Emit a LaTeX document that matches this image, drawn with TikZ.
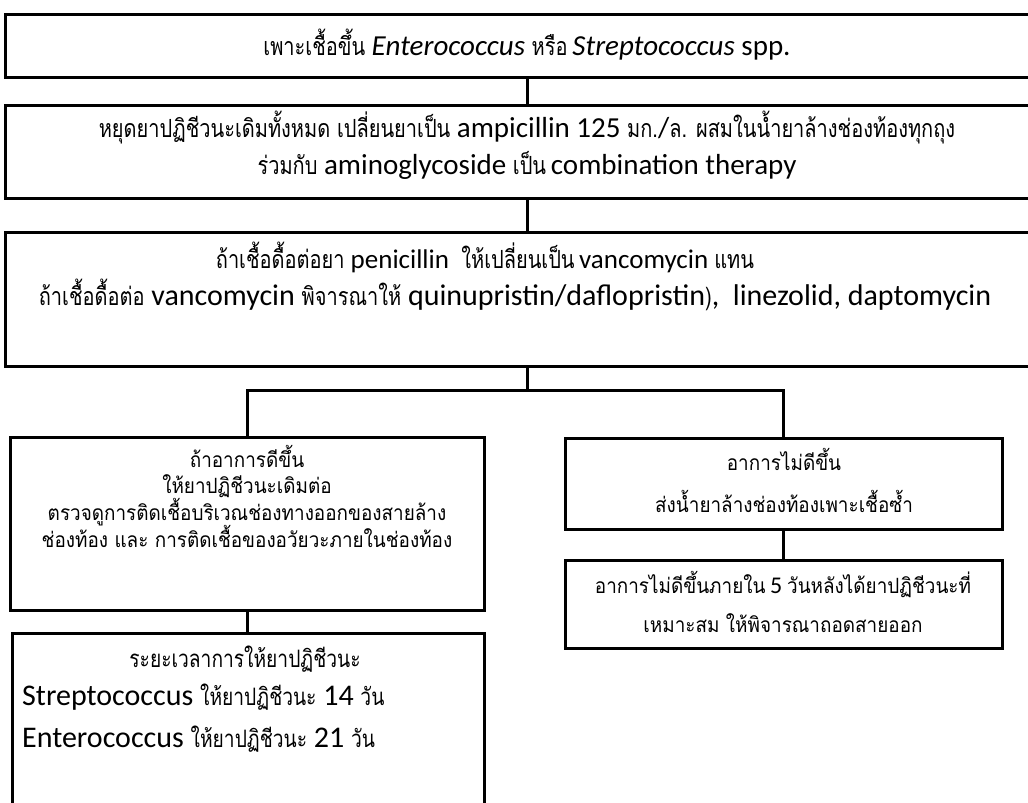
\documentclass[tikz,border=0pt]{standalone}
\usepackage{fontspec}
\setmainfont{Carlito}
\newfontfamily\thn[Script=Thai,FakeStretch=0.8]{Loma}
\newfontfamily\tht[Script=Thai,FakeStretch=0.9]{Loma}
\newcommand\TN[1]{{\fontsize{25}{29}\thn #1}}
\newcommand\TB[1]{{\fontsize{24}{28}\thn #1}}
\newcommand\TT[1]{{\fontsize{21}{25}\tht #1}}
\newcommand\LA{\fontsize{29}{34}\selectfont}
\begin{document}
\begin{tikzpicture}[x=1pt,y=-1pt,
  box/.style={draw, line width=3pt, inner sep=0pt, rectangle},
  conn/.style={line width=3pt},
  txt/.style={anchor=base, inner sep=0pt, font=\LA}]
\useasboundingbox (0,0) rectangle (1028,803);
\fill[white] (0,0) rectangle (1028,803);
\clip (0,0) rectangle (1028,803);
% boxes
\node[box, minimum width=1044pt, minimum height=63pt] (b1) at (527,45.5) {};
\node[box, minimum width=1044pt, minimum height=93pt] (b2) at (527,151.5) {};
\node[box, minimum width=1044pt, minimum height=134pt] (b3) at (527,299) {};
\node[box, minimum width=474pt, minimum height=173pt] (bl) at (247,523.5) {};
\node[box, minimum width=437pt, minimum height=91pt] (ra) at (783.5,483.5) {};
\node[box, minimum width=437pt, minimum height=88pt] (rb) at (783.5,604) {};
\node[box, minimum width=472pt, minimum height=190pt] (bb) at (248,728) {};
\coordinate (j) at (527,390);
% connectors
\draw[conn] (b1.south) -- (b2.north);
\draw[conn] (b2.south) -- (b3.north);
\draw[conn] (b3.south) -- (j);
\draw[conn] (bl.north) -- (bl.north |- j) -- (ra.north |- j) -- (ra.north);
\draw[conn] (ra.south) -- (rb.north);
\draw[conn] (bl.south) -- (bl.south |- bb.north);
% texts
\node[txt] (t1) at (527,55) {\TN{เพาะเชื้อขึ้น} \textit{Enterococcus} \TN{หรือ}\,\textit{Streptococcus} spp.};
\node[txt] (t2a) at (527,137) {\TN{หยุดยาปฏิชีวนะเดิมทั้งหมด เปลี่ยนยาเป็น} ampicillin 125 \TN{มก.}/\TN{ล. ผสมในน้ำยาล้างช่องท้องทุกถุง}};
\node[txt] (t2b) at (527,174) {\TN{ร่วมกับ} aminoglycoside \TN{เป็น}\,combination therapy};
\node[txt, font=\fontsize{27}{32}\selectfont] (t3a) at (485,268) {\TN{ถ้าเชื้อดื้อต่อยา} penicillin\ \ \TN{ให้เปลี่ยนเป็น}\,vancomycin \TN{แทน}};
\node[txt, font=\fontsize{30}{36}\selectfont] (t3b) at (515,305) {\TN{ถ้าเชื้อดื้อต่อ} vancomycin \TN{พิจารณาให้} quinupristin/daflopristin\TN{)},\ \ linezolid, daptomycin};
\node[txt] (l1) at (247,467) {\TT{ถ้าอาการดีขึ้น}};
\node[txt] (l2) at (247,493) {\TT{ให้ยาปฏิชีวนะเดิมต่อ}};
\node[txt] (l3) at (247,520) {\TT{ตรวจดูการติดเชื้อบริเวณช่องทางออกของสายล้าง}};
\node[txt] (l4) at (247,547) {\TT{ช่องท้อง และ การติดเชื้อของอวัยวะภายในช่องท้อง}};
\node[txt] (r1) at (784,470) {\TT{อาการไม่ดีขึ้น}};
\node[txt] (r2) at (784,512) {\TT{ส่งน้ำยาล้างช่องท้องเพาะเชื้อซ้ำ}};
\node[txt, font=\fontsize{21}{25}\selectfont] (r3) at (783,593) {\TT{อาการไม่ดีขึ้นภายใน} {\fontsize{24}{28}\selectfont 5} \TT{วันหลังได้ยาปฏิชีวนะที่}};
\node[txt, font=\fontsize{21}{25}\selectfont] (r4) at (783,632) {\TT{เหมาะสม ให้พิจารณาถอดสายออก}};
\node[txt] (e1) at (245,667) {\TB{ระยะเวลาการให้ยาปฏิชีวนะ}};
\node[txt, anchor=base west, font=\fontsize{30}{36}\selectfont] (e2) at (22,705) {Streptococcus \TB{ให้ยาปฏิชีวนะ} 14 \TB{วัน}};
\node[txt, anchor=base west, font=\fontsize{30}{36}\selectfont] (e3) at (22,747) {Enterococcus \TB{ให้ยาปฏิชีวนะ} 21 \TB{วัน}};
\end{tikzpicture}
\end{document}
